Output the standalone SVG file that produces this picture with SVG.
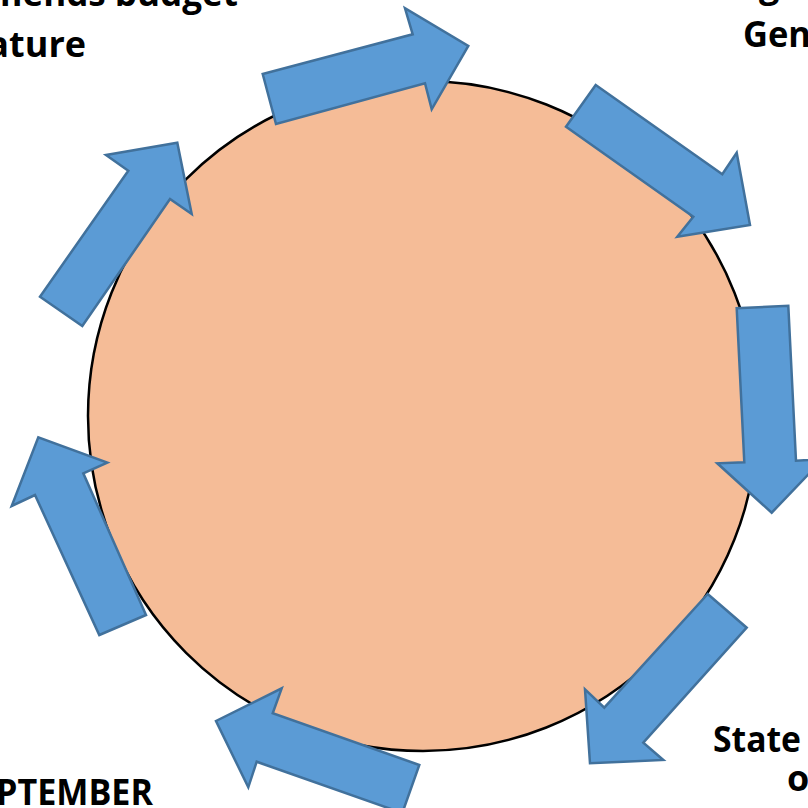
<svg xmlns="http://www.w3.org/2000/svg" width="808" height="808" viewBox="0 0 808 808">
<style>
.bg{fill:#ffffff}
.cyc{fill:#F5BC97;stroke:#000000;stroke-width:2.5}
.arr{fill:#5B9BD5;stroke:#41719C;stroke-width:2.5;stroke-linejoin:miter}
.lbl{font-family:"Open Sans","Liberation Sans",sans-serif;font-weight:700;font-size:36px;fill:#000000}
</style>
<rect class="bg" x="0" y="0" width="808" height="808"/>
<g id="cycle">
<circle class="cyc" cx="423" cy="416" r="335"/>
</g>
<g id="connectors">
<polygon class="arr" points="262.7,74 412.7,34.3 405,8.3 468.3,46 431.7,109.3 425,83.3 276,124"/>
<polygon class="arr" points="595.7,85 722.3,174.3 736.7,152.7 750,225 677.3,236.7 693.3,216.7 566,126.7"/>
<polygon class="arr" points="788.3,305.7 796,460.7 823,459 771.7,512.7 717.3,463.3 744.3,462.3 736.7,308.3"/>
<polygon class="arr" points="707.7,594 604.3,707.7 585,689.3 590,763.3 663.3,760 643.3,742.7 746.7,627.7"/>
<polygon class="arr" points="419.3,765 272.7,713.3 281.7,688.3 216,721 248.3,787.3 256.7,761.7 402.3,813"/>
<polygon class="arr" points="146,615 83.3,473.3 107.3,462.7 38.3,437.3 11.7,506 35,495 99.3,635"/>
<polygon class="arr" points="40,296.7 128.3,170.7 106,155 177.3,142.7 191.7,214 170,199 82.3,326"/>
</g>
<g id="label-top-left">
<text class="lbl" x="-12" y="6" textLength="250" lengthAdjust="spacingAndGlyphs">mends budget</text>
<text class="lbl" x="86" y="57" text-anchor="end">ature</text>
</g>
<g id="label-top-right">
<text class="lbl" x="759" y="-3">g</text>
<text class="lbl" x="743" y="47" textLength="68" lengthAdjust="spacingAndGlyphs">Gen</text>
</g>
<g id="label-bottom-right">
<text class="lbl" x="713" y="752" textLength="88" lengthAdjust="spacingAndGlyphs">State</text>
<text class="lbl" x="787" y="791">o</text>
</g>
<g id="label-bottom-left">
<text class="lbl" x="-4" y="805" textLength="157" lengthAdjust="spacingAndGlyphs">PTEMBER</text>
</g>
</svg>
